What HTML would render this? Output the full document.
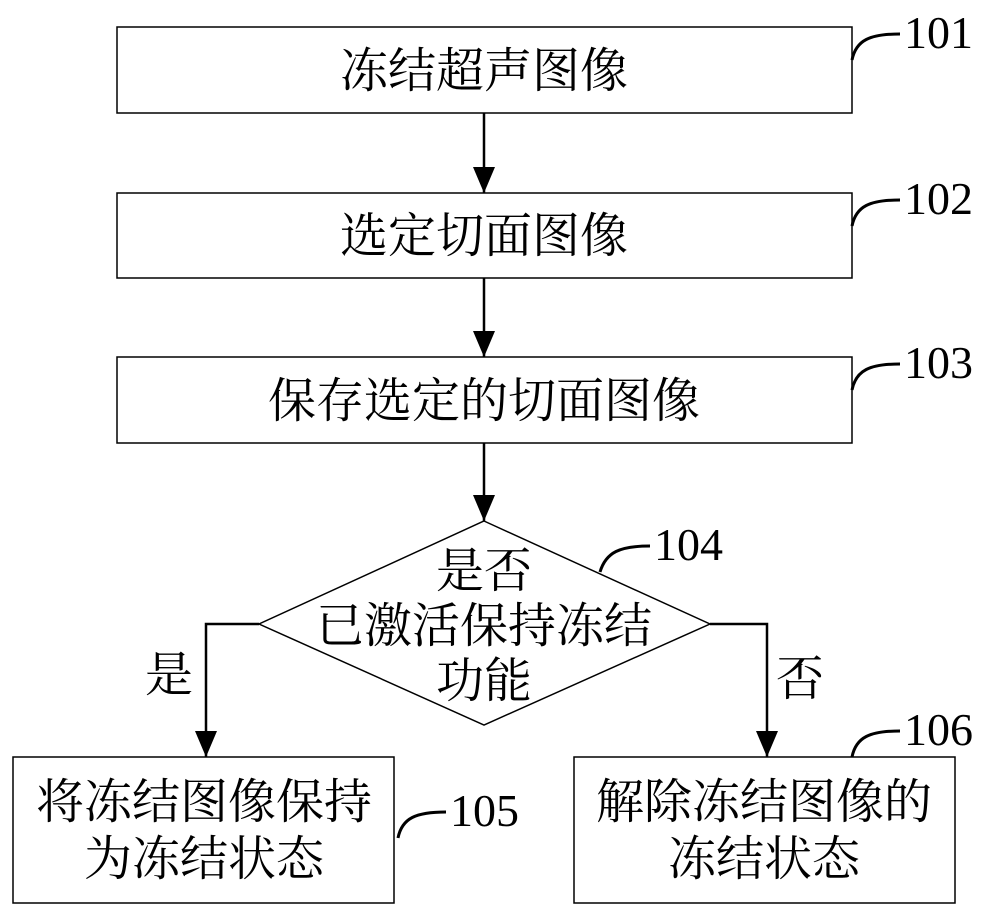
<!DOCTYPE html>
<html><head><meta charset="utf-8"><style>
body{margin:0;background:#fff}
svg{display:block}
text{font-family:"Liberation Serif","Noto Serif CJK SC",serif;fill:#000}
</style></head><body>
<svg width="990" height="918" viewBox="0 0 990 918" xmlns="http://www.w3.org/2000/svg">
<defs>
<marker id="d" markerWidth="26" markerHeight="22" refX="26" refY="11" orient="auto" markerUnits="userSpaceOnUse"><path d="M0,0 L26,11 L0,22 Z" fill="#000"/></marker></defs>
<g fill="none" stroke="#000" stroke-width="1.5">
<rect x="117" y="27" width="735" height="86"/>
<rect x="117" y="193" width="735" height="85"/>
<rect x="117" y="357" width="735" height="86"/>
<polygon points="484,521 710,624 484,725 259,624"/>
<rect x="13" y="757" width="381" height="146"/>
<rect x="574" y="757" width="381" height="146"/>
<g stroke-width="2.5">
<line x1="484" y1="113" x2="484" y2="193" marker-end="url(#d)"/>
<line x1="484" y1="278" x2="484" y2="357" marker-end="url(#d)"/>
<line x1="484" y1="443" x2="484" y2="521" marker-end="url(#d)"/>
<polyline points="259,624 206,624 206,757" marker-end="url(#d)"/>
<polyline points="710,624 767,624 767,757" marker-end="url(#d)"/>
</g>
<g stroke-width="3">
<path d="M852,60 C856,40 870,34 900,34"/>
<path d="M852,226 C856,206 870,200 900,200"/>
<path d="M852,390 C856,370 870,364 900,364"/>
<path d="M600,572 C606,552 620,546 650,546"/>
<path d="M398,838 C402,818 416,812 446,812"/>
<path d="M852,757 C856,737 870,731 900,731"/>
</g>
</g>
<g font-size="46">
<text x="904" y="48">101</text>
<text x="904" y="214">102</text>
<text x="904" y="378">103</text>
<text x="654" y="560">104</text>
<text x="450" y="826">105</text>
<text x="904" y="745">106</text>
</g>
<g font-size="48" text-anchor="middle">
<text x="484" y="87">冻结超声图像</text>
<text x="484" y="252">选定切面图像</text>
<text x="484" y="417">保存选定的切面图像</text>
<text x="484" y="587">是否</text>
<text x="484" y="642">已激活保持冻结</text>
<text x="484" y="697">功能</text>
<text x="169" y="691">是</text>
<text x="800" y="695">否</text>
<text x="204" y="818">将冻结图像保持</text>
<text x="204" y="875">为冻结状态</text>
<text x="764" y="818">解除冻结图像的</text>
<text x="764" y="875">冻结状态</text>
</g>
</svg>
</body></html>
